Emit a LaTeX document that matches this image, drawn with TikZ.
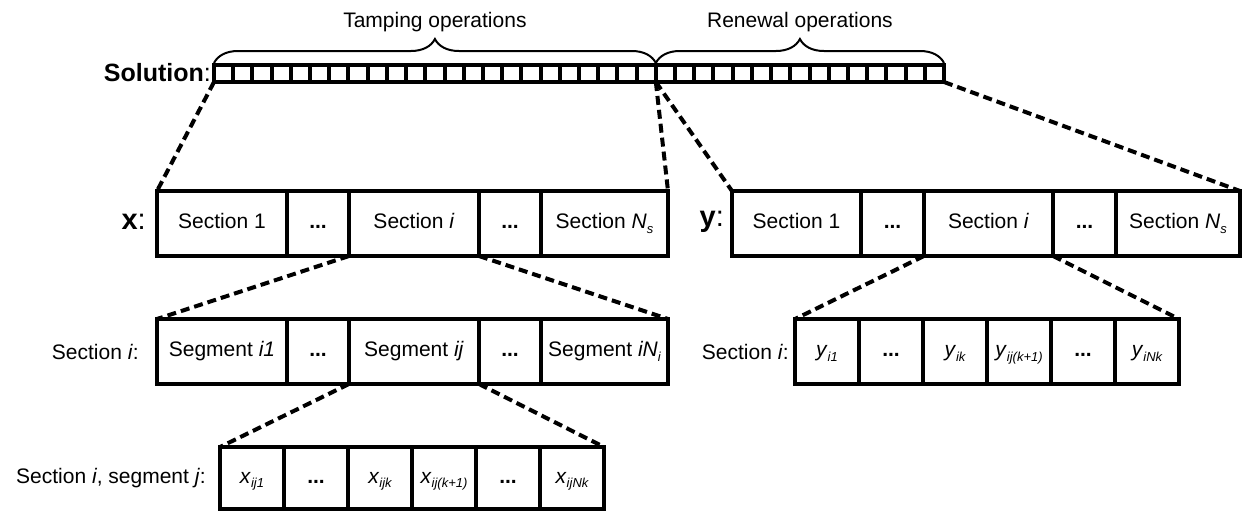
\documentclass[tikz,border=0pt]{standalone}
\usepackage{fontspec}
\setmainfont{Liberation Sans}
\usetikzlibrary{decorations.pathreplacing,calc}
\newcommand{\sbs}[1]{\raisebox{-4.5pt}{\fontsize{13}{13}\selectfont\itshape #1}}
\newcommand{\dts}{\textbf{...}}
\begin{document}
\begin{tikzpicture}[x=1pt,y=-1pt,
  cell/.style={draw, line width=3.5pt, inner sep=0pt, outer sep=0pt, anchor=north west, minimum height=65pt, text height=15pt, text depth=4.5pt, font=\fontsize{21}{25}\selectfont},
  lbl/.style={inner sep=0pt, anchor=east, font=\fontsize{21}{25}\selectfont},
  biglbl/.style={inner sep=0pt, anchor=east, font=\fontsize{29}{33}\selectfont},
  zoomline/.style={line width=4pt, dash pattern=on 9pt off 5pt},
  bracestyle/.style={decorate, decoration={brace, amplitude=24pt, raise=2pt}, line width=2pt}]
\useasboundingbox (0,0) rectangle (1244,512);
% solution bar
\node[draw, line width=4.5pt, inner sep=0pt, outer sep=0pt, anchor=north west, minimum width=730pt, minimum height=17pt] (bar) at (214,65) {};
\foreach \k in {1,...,37}
  \draw[line width=4pt] ($(bar.north west)!{\k/38}!(bar.north east)$) -- ($(bar.south west)!{\k/38}!(bar.south east)$);
\coordinate (tsplit) at ($(bar.north west)!{23/38}!(bar.north east)$);
\coordinate (bsplit) at ($(bar.south west)!{23/38}!(bar.south east)$);
\draw[bracestyle] (bar.north west) -- (tsplit) node[midway, above=32pt, inner sep=0pt, font=\fontsize{21}{25}\selectfont] (tamp) {Tamping operations};
\draw[bracestyle] (tsplit) -- (bar.north east) node[midway, above=32pt, inner sep=0pt, font=\fontsize{21}{25}\selectfont] (ren) {Renewal operations};
\node[inner sep=0pt, anchor=east, font=\fontsize{25}{29}\selectfont] (sol) at (211,73) {\textbf{Solution}:};
% x row
\node[biglbl] (xl) at (146,222) {\textbf{x}:};
\node[cell, minimum width=130pt] (x1) at (157,191) {Section 1};
\node[cell, minimum width=62pt] (x2) at (287,191) {\dts};
\node[cell, minimum width=130pt] (x3) at (349,191) {Section \textit{i}};
\node[cell, minimum width=62pt] (x4) at (479,191) {\dts};
\node[cell, minimum width=127pt] (x5) at (541,191) {Section \textit{N}\sbs{s}};
% y row
\node[biglbl] (yl) at (724,222) {\textbf{y}:};
\node[cell, minimum width=129pt] (y1) at (732,191) {Section 1};
\node[cell, minimum width=63pt] (y2) at (861,191) {\dts};
\node[cell, minimum width=129pt] (y3) at (924,191) {Section \textit{i}};
\node[cell, minimum width=63pt] (y4) at (1053,191) {\dts};
\node[cell, minimum width=124pt] (y5) at (1116,191) {Section \textit{N}\sbs{s}};
% segment row
\node[lbl] (sl) at (139,352) {Section \textit{i}:};
\node[cell, minimum width=130pt] (s1) at (157,319) {Segment \textit{i1}};
\node[cell, minimum width=62pt] (s2) at (287,319) {\dts};
\node[cell, minimum width=130pt] (s3) at (349,319) {Segment \textit{ij}};
\node[cell, minimum width=62pt] (s4) at (479,319) {\dts};
\node[cell, minimum width=127pt] (s5) at (541,319) {Segment \textit{iN}\sbs{i}};
% y section row
\node[lbl] (ysl) at (789,352) {Section \textit{i}:};
\node[cell, minimum width=64pt] (ys1) at (795,319) {\textit{y}\sbs{i1}};
\node[cell, minimum width=64pt] (ys2) at (859,319) {\dts};
\node[cell, minimum width=64pt] (ys3) at (923,319) {\textit{y}\sbs{ik}};
\node[cell, minimum width=64pt] (ys4) at (987,319) {\textit{y}\sbs{ij(k+1)}};
\node[cell, minimum width=64pt] (ys5) at (1051,319) {\dts};
\node[cell, minimum width=64pt] (ys6) at (1115,319) {\textit{y}\sbs{iNk}};
% bottom row
\node[lbl] (bl) at (206,478) {Section \textit{i}, segment \textit{j}:};
\node[cell, minimum width=64pt, minimum height=62pt] (b1) at (220,447) {\textit{x}\sbs{ij1}};
\node[cell, minimum width=64pt, minimum height=62pt] (b2) at (284,447) {\dts};
\node[cell, minimum width=64pt, minimum height=62pt] (b3) at (348,447) {\textit{x}\sbs{ijk}};
\node[cell, minimum width=64pt, minimum height=62pt] (b4) at (412,447) {\textit{x}\sbs{ij(k+1)}};
\node[cell, minimum width=64pt, minimum height=62pt] (b5) at (476,447) {\dts};
\node[cell, minimum width=64pt, minimum height=62pt] (b6) at (540,447) {\textit{x}\sbs{ijNk}};
% zoom lines
\draw[zoomline] (bar.south west) -- (x1.north west);
\draw[zoomline] (bsplit) -- (x5.north east);
\draw[zoomline] (bsplit) -- (y1.north west);
\draw[zoomline] (bar.south east) -- (y5.north east);
\draw[zoomline] (x3.south west) -- (s1.north west);
\draw[zoomline] (x3.south east) -- (s5.north east);
\draw[zoomline] (s3.south west) -- (b1.north west);
\draw[zoomline] (s3.south east) -- (b6.north east);
\draw[zoomline] (y3.south west) -- (ys1.north west);
\draw[zoomline] (y3.south east) -- (ys6.north east);
\end{tikzpicture}
\end{document}
